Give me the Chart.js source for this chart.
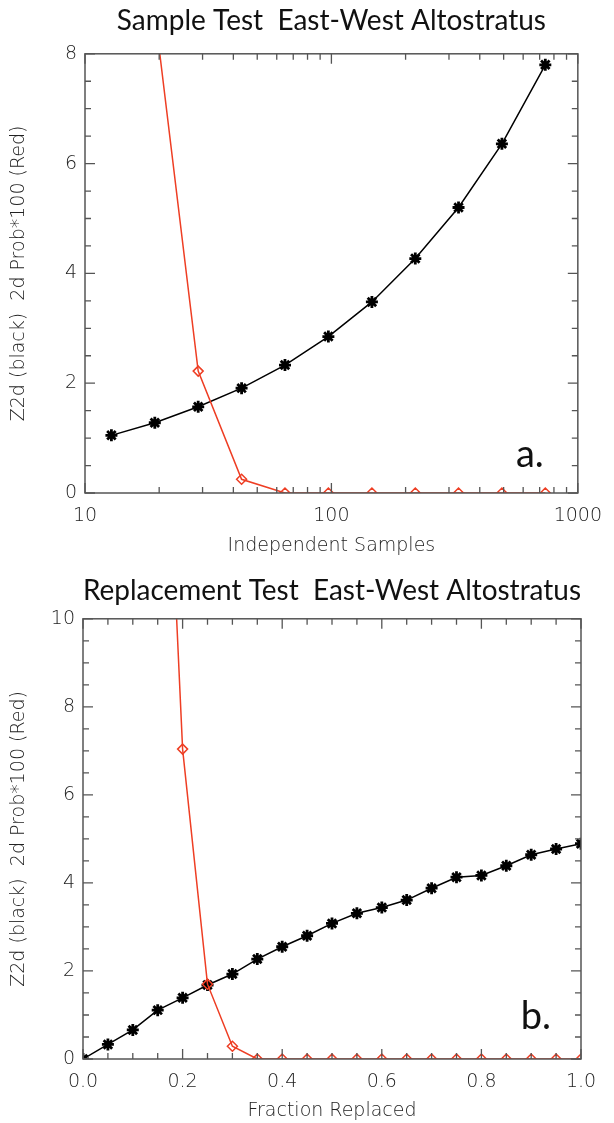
<!DOCTYPE html>
<html>
<head>
<meta charset="utf-8">
<script src="https://cdn.jsdelivr.net/npm/chart.js@4.4.1/dist/chart.umd.min.js"></script>
<style>
  html, body { margin: 0; padding: 0; background: #ffffff; }
  #wrap { width: 614px; height: 1123px; position: relative; }
  canvas { display: block; }
</style>
</head>
<body>
<div id="wrap">
  <canvas id="c1" width="614" height="560"></canvas>
  <canvas id="c2" width="614" height="563"></canvas>
</div>
<script>
// ---------- Panel a: Sample Test ----------
const sampleX   = [12.8, 19.2, 28.8, 43.2, 64.8, 97.2, 146, 219, 328, 492, 738];
const z2dA      = [1.05, 1.28, 1.57, 1.91, 2.33, 2.85, 3.48, 4.27, 5.20, 6.36, 7.80];
const probA     = [null, 8.75, 2.22, 0.25, 0, 0, 0, 0, 0, 0, 0];
const xTicksA   = [10, 100, 1000];
const xMinorA   = [20, 30, 40, 50, 60, 70, 80, 90, 200, 300, 400, 500, 600, 700, 800, 900];
const yTicksA   = [0, 2, 4, 6, 8];
const yMinorA   = [0.5, 1, 1.5, 2.5, 3, 3.5, 4.5, 5, 5.5, 6.5, 7, 7.5];

// ---------- Panel b: Replacement Test ----------
const fracX     = [0, 0.05, 0.1, 0.15, 0.2, 0.25, 0.3, 0.35, 0.4, 0.45, 0.5, 0.55, 0.6, 0.65, 0.7, 0.75, 0.8, 0.85, 0.9, 0.95, 1.0];
const z2dB      = [0, 0.33, 0.66, 1.11, 1.39, 1.68, 1.93, 2.27, 2.55, 2.80, 3.08, 3.31, 3.44, 3.61, 3.88, 4.13, 4.17, 4.39, 4.64, 4.77, 4.89];
const probB     = [null, null, null, 19.4, 7.04, 1.70, 0.29, 0, 0, 0, 0, 0, 0, 0, 0, 0, 0, 0, 0, 0, 0];
const xTicksB   = [0, 0.2, 0.4, 0.6, 0.8, 1.0];
const xMinorB   = [0.05, 0.1, 0.15, 0.25, 0.3, 0.35, 0.45, 0.5, 0.55, 0.65, 0.7, 0.75, 0.85, 0.9, 0.95];
const yTicksB   = [0, 2, 4, 6, 8, 10];
const yMinorB   = [0.5, 1, 1.5, 2.5, 3, 3.5, 4.5, 5, 5.5, 6.5, 7, 7.5, 8.5, 9, 9.5];

const titleA = 'Sample Test  East-West Altostratus';
const titleB = 'Replacement Test  East-West Altostratus';
const yTitle = 'Z2d (black)  2d Prob*100 (Red)';
const xTitleA = 'Independent Samples';
const xTitleB = 'Fraction Replaced';

const RED = 'rgb(238,62,36)';
const IDL_FONT = "'DejaVu Sans'";
const HEAD_FONT = "Lato";

// Box + inward ticks + panel letter
const idlBox = {
  id: 'idlBox',
  afterDatasetsDraw(chart, args, o) {
    const ctx = chart.ctx, a = chart.chartArea;
    const xs = chart.scales.x, ys = chart.scales.y;
    ctx.save();
    ctx.strokeStyle = '#555';
    ctx.lineWidth = 1.5;
    ctx.strokeRect(a.left, a.top, a.right - a.left, a.bottom - a.top);
    ctx.lineWidth = 1.3;
    const tick = (vals, len, isX) => {
      vals.forEach(v => {
        ctx.beginPath();
        if (isX) {
          const px = xs.getPixelForValue(v);
          ctx.moveTo(px, a.bottom); ctx.lineTo(px, a.bottom - len);
          ctx.moveTo(px, a.top); ctx.lineTo(px, a.top + len);
        } else {
          const py = ys.getPixelForValue(v);
          ctx.moveTo(a.left, py); ctx.lineTo(a.left + len, py);
          ctx.moveTo(a.right, py); ctx.lineTo(a.right - len, py);
        }
        ctx.stroke();
      });
    };
    tick(o.xMajor, 10, true); tick(o.xMinor, 6, true);
    tick(o.yMajor, 10, false); tick(o.yMinor, 6, false);
    ctx.fillStyle = '#111';
    ctx.font = '38px ' + HEAD_FONT;
    ctx.textAlign = 'right';
    ctx.textBaseline = 'alphabetic';
    ctx.fillText(o.letter, a.right - o.letterDx, a.bottom - o.letterDy);
    ctx.restore();
  }
};

function makeChart(id, cfg) {
  const blackSet = {
    data: cfg.xs.map((x, i) => ({ x: x, y: cfg.black[i] })),
    borderColor: '#000', borderWidth: 1.5, tension: 0,
    pointStyle: 'star', pointRadius: 6, pointBorderWidth: 2.8,
    pointBorderColor: '#000', pointBackgroundColor: '#000',
    clip: 0, order: 2
  };
  const redSet = {
    data: cfg.xs.map((x, i) => ({ x: x, y: cfg.red[i] })),
    borderColor: RED, borderWidth: 1.5, tension: 0, spanGaps: false,
    pointStyle: 'rectRot', pointRadius: 5, pointBorderWidth: 1.5,
    pointBorderColor: RED, pointBackgroundColor: 'rgba(255,255,255,0)',
    clip: 0, order: 1
  };
  const tickFont = { family: IDL_FONT, size: 19, weight: '300' };
  return new Chart(document.getElementById(id), {
    type: 'line',
    data: { datasets: [blackSet, redSet] },
    plugins: [idlBox],
    options: {
      responsive: false, animation: false, devicePixelRatio: 1,
      layout: { padding: { left: 0, right: cfg.padRight, top: 0, bottom: 0 } },
      plugins: {
        legend: { display: false },
        tooltip: { enabled: false },
        title: {
          display: true, text: cfg.title, fullSize: false, color: '#111',
          font: { family: HEAD_FONT, size: 28, weight: 'normal', lineHeight: 1.1 },
          padding: { top: cfg.titleTop, bottom: cfg.titleBottom }
        },
        idlBox: {
          xMajor: cfg.xMajor, xMinor: cfg.xMinor, yMajor: cfg.yMajor, yMinor: cfg.yMinor,
          letter: cfg.letter, letterDx: cfg.letterDx, letterDy: cfg.letterDy
        }
      },
      scales: {
        x: {
          type: cfg.xType, min: cfg.xMin, max: cfg.xMax,
          afterBuildTicks: s => { s.ticks = cfg.xMajor.map(v => ({ value: v })); },
          afterFit: s => { s.height = cfg.xHeight; },
          ticks: { callback: cfg.xFmt, font: tickFont, color: '#222', padding: cfg.xTickPad,
                   maxRotation: 0, autoSkip: false },
          grid: { display: false, drawTicks: false },
          border: { display: false },
          title: { display: true, text: cfg.xTitle, color: '#222',
                   font: { family: IDL_FONT, size: 19, weight: '300' },
                   padding: { top: 0, bottom: cfg.xTitlePad } }
        },
        y: {
          type: 'linear', min: cfg.yMin, max: cfg.yMax,
          afterBuildTicks: s => { s.ticks = cfg.yMajor.map(v => ({ value: v })); },
          afterFit: s => { s.width = cfg.yWidth; },
          ticks: { callback: v => String(v), font: tickFont, color: '#222', padding: 8, autoSkip: false },
          grid: { display: false, drawTicks: false },
          border: { display: false },
          title: { display: true, text: yTitle, color: '#222',
                   font: { family: IDL_FONT, size: 19, weight: '300' },
                   padding: { top: 8, bottom: 0 } }
        }
      }
    }
  });
}

makeChart('c1', {
  xs: sampleX, black: z2dA, red: probA,
  xType: 'logarithmic', xMin: 10, xMax: 1000, xFmt: v => String(v),
  xMajor: xTicksA, xMinor: xMinorA, yMajor: yTicksA, yMinor: yMinorA,
  yMin: 0, yMax: 8, title: titleA, xTitle: xTitleA,
  padRight: 29, yWidth: 85, xHeight: 67, titleTop: 6, titleBottom: 17,
  xTickPad: 12, xTitlePad: 3,
  letter: 'a.', letterDx: 34, letterDy: 26
});

makeChart('c2', {
  xs: fracX, black: z2dB, red: probB,
  xType: 'linear', xMin: 0, xMax: 1, xFmt: v => Number(v).toFixed(1),
  xMajor: xTicksB, xMinor: xMinorB, yMajor: yTicksB, yMinor: yMinorB,
  yMin: 0, yMax: 10, title: titleB, xTitle: xTitleB,
  padRight: 33, yWidth: 83, xHeight: 64, titleTop: 16, titleBottom: 12,
  xTickPad: 12, xTitlePad: 1,
  letter: 'b.', letterDx: 30, letterDy: 30
});
</script>
</body>
</html>
